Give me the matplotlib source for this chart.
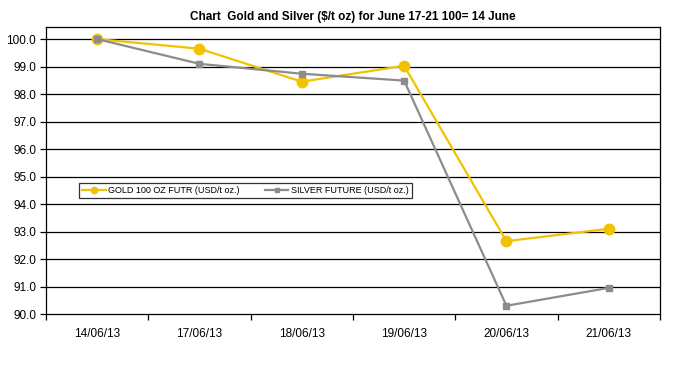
import matplotlib
matplotlib.use("Agg")
import matplotlib.pyplot as plt
import numpy as np

plt.rcParams['font.family'] = ['Liberation Sans', 'DejaVu Sans']

dates = ["14/06/13", "17/06/13", "18/06/13", "19/06/13", "20/06/13", "21/06/13"]
gold = [100.0, 99.65, 98.45, 99.03, 92.65, 93.1]
silver = [100.0, 99.1, 98.74, 98.49, 90.3, 90.95]
yticks = [90.0, 91.0, 92.0, 93.0, 94.0, 95.0, 96.0, 97.0, 98.0, 99.0, 100.0]

fig = plt.figure(figsize=(6.8, 3.68), dpi=100)
ax = fig.add_axes([0.0676, 0.1467, 0.9029, 0.7807])

x = np.arange(len(dates))
gold_col = "#F2C200"
silver_col = "#8C8C8C"
ax.plot(x, gold, color=gold_col, lw=1.6, marker="o", ms=7.5, label="GOLD 100 OZ FUTR (USD/t oz.)", zorder=3)
ax.plot(x, silver, color=silver_col, lw=1.6, marker="s", ms=5, label="SILVER FUTURE (USD/t oz.)", zorder=4)

ax.set_xlim(-0.5, len(dates) - 0.5)
ax.set_ylim(90.0, 100.45)
ax.set_yticks(yticks)
ax.set_yticklabels([f"{v:.1f}" for v in yticks], fontsize=8.5)
for v in yticks[1:]:
    ax.axhline(v, color="black", lw=0.9, zorder=1)

ax.set_xticks(x)
ax.set_xticklabels(dates, fontsize=8.5)
ax.tick_params(axis="x", which="major", length=0, pad=10)
ax.set_xticks(np.arange(-0.5, len(dates), 1.0), minor=True)
ax.tick_params(axis="x", which="minor", length=4, width=0.9, direction="out")
ax.tick_params(axis="y", length=4, width=0.9, direction="out", pad=3)

for s in ax.spines.values():
    s.set_color("black")
    s.set_linewidth(0.9)

ax.set_title("Chart  Gold and Silver ($/t oz) for June 17-21 100= 14 June", fontsize=8.5,
             fontweight="bold", pad=5)

leg = ax.legend(loc="center left", bbox_to_anchor=(0.047, 0.43), ncol=2, fontsize=6.5,
                frameon=True, fancybox=False, edgecolor="black", handlelength=2.6,
                columnspacing=2.8, borderpad=0.3, handletextpad=0.3, markerscale=0.6)
leg.get_frame().set_linewidth(0.9)

fig.savefig("out.png", dpi=100, facecolor="white")
